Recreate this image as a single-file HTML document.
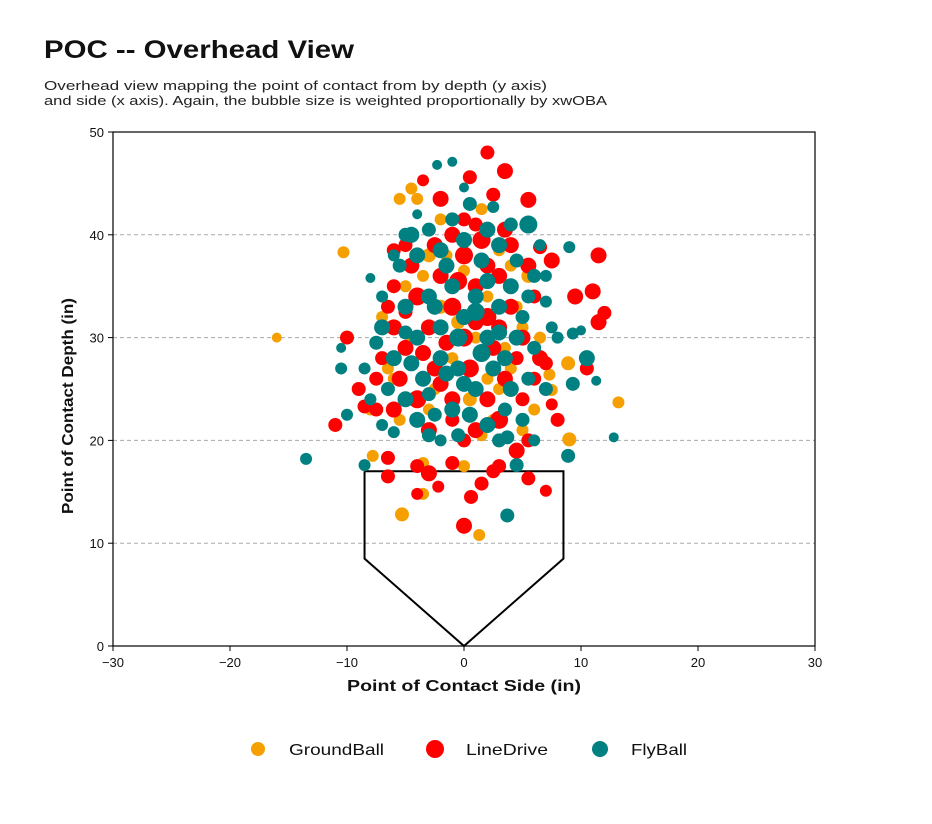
<!DOCTYPE html>
<html><head><meta charset="utf-8"><style>
body{margin:0;background:#fff;width:932px;height:819px;overflow:hidden;font-family:"Liberation Sans","DejaVu Sans",sans-serif}
</style></head><body>
<svg id="chart" width="932" height="819" xmlns="http://www.w3.org/2000/svg" font-family="Liberation Sans, DejaVu Sans, sans-serif">
<text x="44" y="58" font-size="25" font-weight="bold" fill="#111" textLength="310" lengthAdjust="spacingAndGlyphs">POC -- Overhead View</text>
<text x="44" y="90" font-size="13" fill="#222" textLength="503" lengthAdjust="spacingAndGlyphs">Overhead view mapping the point of contact from by depth (y axis)</text>
<text x="44" y="105" font-size="13" fill="#222" textLength="563" lengthAdjust="spacingAndGlyphs">and side (x axis). Again, the bubble size is weighted proportionally by xwOBA</text>
<g id="grid"></g><g id="plate"></g><g id="pts"></g><g id="axes"></g>
<text x="464" y="691" font-size="16" font-weight="bold" text-anchor="middle" fill="#111" textLength="234" lengthAdjust="spacingAndGlyphs">Point of Contact Side (in)</text>
<text transform="translate(73,406) rotate(-90)" font-size="16" font-weight="bold" text-anchor="middle" fill="#111" textLength="216" lengthAdjust="spacingAndGlyphs">Point of Contact Depth (in)</text>
<g id="legend"></g>
</svg>
<script>
const xTicks=[-30,-20,-10,0,10,20,30];
const yTicks=[0,10,20,30,40,50];
const gridY=[10,20,30,40];
const plateX=[-8.5,8.5,8.5,0,-8.5,-8.5];
const plateY=[17,17,8.5,0,8.5,17];
const groundBall=[[-16,30,5],[-10.3,38.3,6],[13.2,23.7,6],[-5.3,12.8,7],[1.3,10.8,6],[9,20.1,7],[8.9,27.5,7],[-5.5,43.5,6],[-4.5,44.5,6],[-4,43.5,6],[-7.8,18.5,6],[-3.5,14.8,6],[-3.5,17.8,6],[0,17.5,6],[7.3,26.4,6],[7.5,24.9,6],[-7,32,6],[6.5,30,6],[-2,41.5,6],[1.5,42.5,6],[-3,38,7],[4,37,6],[-6,26,6],[3,25,6],[-1,22,6],[5,21,6],[-8,23,6],[-5,35,6],[-3.5,36,6],[-2,33,7],[-1,28,6],[1,30,6],[2,34,6],[3.5,29,6],[4.5,33,6],[5.5,36,7],[-4.5,30,6],[-6.5,27,6],[-2.5,25,6],[0.5,24,7],[2.5,22,6],[4,27,6],[6,23,6],[-1.5,38,6],[3,38.5,6],[0,36.5,6],[-3,23,6],[5,31,6],[-5.5,22,6],[1.5,20.5,6],[-0.5,31.5,7],[2,26,6]];
const lineDrive=[[-11,21.5,7],[-10,30,7],[-9,25,7],[-8.5,23.3,7],[-7.5,23,7],[-7,28,7],[-6.5,33,7],[-6.5,18.3,7],[-6.5,16.5,7],[-4,17.5,7],[-4,14.8,6],[-3,16.8,8],[-2.2,15.5,6],[-1,17.8,7],[0,11.7,8],[0.6,14.5,7],[1.5,15.8,7],[2.5,17,7],[3,17.5,7],[5.5,16.3,7],[7,15.1,6],[5.5,20,7],[4.5,19,8],[7.5,23.5,6],[8,22,7],[7,27.5,7],[9.5,34,8],[11,34.5,8],[11.5,31.5,8],[12,32.4,7],[11.5,38,8],[10.5,27,7],[7.5,37.5,8],[6.5,38.8,7],[5.5,43.4,8],[3.5,46.2,8],[2,48,7],[2.5,43.9,7],[0.5,45.6,7],[-2,43.5,8],[-3.5,45.3,6],[-5,39,7],[-6,38.5,7],[0,41.5,7],[-6,31,8],[-5,29,8],[-4,34,9],[-3,31,8],[-2,36,8],[-1,33,9],[0,38,9],[1,35,8],[2,32,9],[3,36,8],[4,33,8],[5,30,8],[6,34,7],[-5.5,26,8],[-4,24,9],[-2.5,27,8],[-1,24,8],[0.5,27,9],[2,24,8],[3.5,26,8],[5,24,7],[6.5,28,8],[-3,21,8],[-1,22,7],[1,21,8],[3,22,9],[-4.5,37,8],[-2.5,39,8],[1.5,39.5,9],[4,39,8],[-6,35,7],[-7.5,26,7],[-3.5,28.5,8],[0,30,9],[2.5,29,8],[4.5,28,7],[-1.5,29.5,8],[1,31.5,8],[3,31,8],[-0.5,35.5,9],[2,37,8],[-5,32.5,7],[5.5,37,8],[-2,25.5,8],[0,20,7],[-6,23,8],[6,26,7],[-1,40,8],[1,41,7],[3.5,40.5,8]];
const flyBall=[[-13.5,18.2,6],[-8.5,17.6,6],[-10.5,29,5],[-10.5,27,6],[-10,22.5,6],[-8,35.8,5],[3.7,12.7,7],[8.9,18.5,7],[12.8,20.3,5],[11.3,25.8,5],[10.5,28,8],[9.3,25.5,7],[9.3,30.4,6],[10,30.7,5],[9,38.8,6],[5.5,41,9],[2.5,42.7,6],[-2.3,46.8,5],[-1,47.1,5],[0,44.6,5],[-4.5,40,8],[-5,40,7],[-4,42,5],[3.7,20.3,7],[4.5,17.6,7],[-3,20.5,7],[-2,20,6],[-7,31,8],[-6,28,8],[-5,33,8],[-4,30,8],[-3,34,8],[-2,31,8],[-1,35,8],[0,32,8],[1,34,8],[2,30,8],[3,33,8],[4,35,8],[5,32,7],[6,29,7],[-6.5,25,7],[-5,24,8],[-3.5,26,8],[-2,28,8],[-0.5,27,8],[1,25,8],[2.5,27,8],[4,25,8],[5.5,26,7],[7,25,7],[-4,22,8],[-2.5,22.5,7],[-1,23,8],[0.5,22.5,8],[2,21.5,8],[3.5,23,7],[5,22,7],[-5.5,37,7],[-4,38,8],[-2,38.5,8],[0,39.5,8],[1.5,37.5,8],[3,39,8],[4.5,37.5,7],[6,36,7],[-1,41.5,7],[0.5,43,7],[2,40.5,8],[4,41,7],[-3,40.5,7],[-7.5,29.5,7],[-8.5,27,6],[-8,24,6],[-7,21.5,6],[7.5,31,6],[7,33.5,6],[8,30,6],[6.5,39,6],[-0.5,30,9],[1.5,28.5,9],[3,30.5,8],[-2.5,33,8],[-4.5,27.5,8],[0,25.5,8],[2,35.5,8],[-1.5,37,8],[4.5,30,8],[5.5,34,7],[-3,24.5,7],[3,20,7],[-0.5,20.5,7],[-6,20.8,6],[6,20,6],[-5,30.5,7],[1,32.5,9],[-1.5,26.5,8],[3.5,28,8],[-7,34,6],[-6,38,6],[7,36,6]];
const legendLabels=["GroundBall","LineDrive","FlyBall"];
const colors=["#f5a000","#ff0000","#008080"];

const NS="http://www.w3.org/2000/svg";
const X0=113,X1=815,Y0=646,Y1=132;
const sx=v=>X0+(v+30)/60*(X1-X0);
const sy=v=>Y0-v/50*(Y0-Y1);
function mk(tag,attrs,parent){const e=document.createElementNS(NS,tag);for(const k in attrs)e.setAttribute(k,attrs[k]);parent.appendChild(e);return e;}
const grid=document.getElementById('grid');
gridY.forEach(v=>{const l=mk('line',{x1:X0,x2:X1,y1:sy(v),y2:sy(v),stroke:'#aaa','stroke-dasharray':'4,3','stroke-width':1},grid);

});
const plate=document.getElementById('plate');
const pp=mk('polyline',{points:plateX.map((x,i)=>sx(x)+','+sy(plateY[i])).join(' '),fill:'none',stroke:'#000','stroke-width':2},plate);


const pts=document.getElementById('pts');
[groundBall,lineDrive,flyBall].forEach((set,ci)=>{set.forEach(p=>{const c=mk('circle',{cx:sx(p[0]),cy:sy(p[1]),r:p[2],fill:colors[ci]},pts);

});});
const axes=document.getElementById('axes');
const frame=mk('rect',{x:X0,y:Y1,width:X1-X0,height:Y0-Y1,fill:'none',stroke:'#000','stroke-width':1.2},axes);


xTicks.forEach(v=>{mk('line',{x1:sx(v),x2:sx(v),y1:Y0,y2:Y0+5,stroke:'#000'},axes);
const t=mk('text',{x:sx(v),y:Y0+21,'font-size':13,'text-anchor':'middle',fill:'#111'},axes);t.textContent=v<0?'\u2212'+(-v):v;

});
yTicks.forEach(v=>{mk('line',{x1:X0-5,x2:X0,y1:sy(v),y2:sy(v),stroke:'#000'},axes);
const t=mk('text',{x:X0-9,y:sy(v)+5,'font-size':13,'text-anchor':'end',fill:'#111'},axes);t.textContent=v;

});
const lg=document.getElementById('legend');
const lx=[258,435,600],lr=[7,9,8],lw=[95,82,56];
legendLabels.forEach((lab,i)=>{const g=mk('g',{},lg);


mk('circle',{cx:lx[i],cy:749,r:lr[i],fill:colors[i]},g);
const t=mk('text',{x:lx[i]+31,y:755,'font-size':16,fill:'#111',textLength:lw[i],lengthAdjust:'spacingAndGlyphs'},g);t.textContent=lab;});
</script>
</body></html>
